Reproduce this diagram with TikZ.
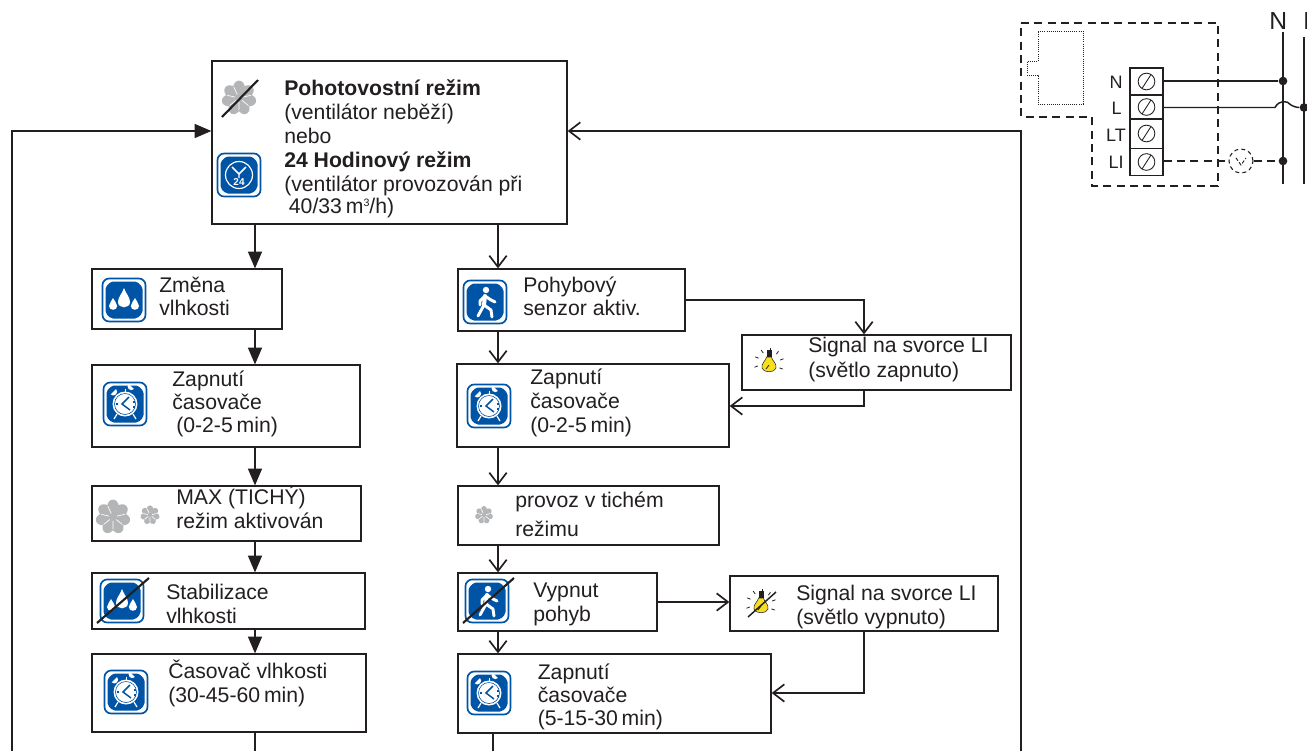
\documentclass[tikz,border=0pt]{standalone}
\usepackage{fontspec}
\setmainfont{Liberation Sans}
\usetikzlibrary{arrows.meta}
\definecolor{ink}{HTML}{231F20}
\definecolor{iconblue}{HTML}{0054A6}
\definecolor{fangray}{HTML}{B4B5B7}
\definecolor{bulbyellow}{HTML}{F7DF1E}
\tikzset{
  flowbox/.style={draw=ink,line width=.95pt,fill=white,inner sep=0pt,rectangle},
  flowtext/.style={anchor=base west,inner sep=0pt,text=ink},
  wire/.style={draw=ink,line width=.8pt},
  arrfill/.style={wire,-{Triangle[length=12.5pt,width=10.5pt]}},
  arropen/.style={wire,-{Straight Barb[length=8.5pt,width=13pt,line width=1.25pt]}},
  cell/.style={draw=ink,line width=.9pt,inner sep=0pt,rectangle,minimum width=24.75pt},
  screw/.style={circle,draw=ink,line width=.65pt,inner sep=0pt,minimum size=12.5pt},
  junction/.style={circle,fill=ink,inner sep=0pt,minimum size=6.5pt},
  slashline/.style={draw=ink,line width=1.6pt},
  dashwire/.style={draw=ink,line width=.9pt,dash pattern=on 6pt off 4pt},
}
\newcommand\tl[1]{\begin{tabular}[t]{@{}l@{}}#1\end{tabular}}
\newcommand\nsp{\hspace{2.9pt}}
% name, x1, y1, x2, y2, text x, first baseline y, baselineskip, text
\newcommand\flowbox[9]{%
  \node[flowbox,minimum width={(#4-#2)*0.75pt},minimum height={(#5-#3)*0.75pt}] (#1) at ({(#2+#4)/2},{(#3+#5)/2}) {};
  \node[flowtext,font=\fontsize{15.9}{#8}\selectfont] (#1T) at (#6,#7) {\tl{#9}};
}
\newcommand\iconframe{%
  \draw[iconblue,line width=1.25pt,fill=white,rounded corners=5pt] (-21.5,-21.5) rectangle (21.5,21.5);
  \fill[iconblue,rounded corners=1.5pt] (-13,-18.5) -- (13,-18.5) -- (18.5,-13) -- (18.5,13) -- (13,18.5) -- (-13,18.5) -- (-18.5,13) -- (-18.5,-13) -- cycle;
}
\newcommand\clockicon[2]{\begin{scope}[shift={(#1,#2)}]
  \iconframe
  \draw[white,line width=.7pt] (0,-15) -- (0,-12);
  \fill[white] (-9,-15) arc (135:315:-3.8) -- cycle;
  \fill[white] (9,-15) arc (45:225:3.8) -- cycle;
  \draw[white,line width=.9pt] (-8,10) -- (-11,15) (8,10) -- (11,15);
  \fill[white] (0,0) circle (12.5);
  \draw[iconblue,line width=.45pt] (0,0) circle (10.5);
  \draw[iconblue,line width=1.1pt] (4,-7) -- (-3,0) -- (5,6);
  \draw[iconblue,line width=.8pt] (8,-2) -- (10,-2) (8,3) -- (10,3) (-9,0) -- (-7,0);
\end{scope}}
\newcommand\dropicon[2]{\begin{scope}[shift={(#1,#2)}]
  \iconframe
  \fill[white] (0,-12) .. controls (2,-6) and (6,-3) .. (6,2) .. controls (6,9) and (-6,9) .. (-6,2) .. controls (-6,-3) and (-2,-6) .. (0,-12) -- cycle;
  \fill[white] (-11,-2) .. controls (-10,1) and (-6.8,3) .. (-6.8,6) .. controls (-6.8,11) and (-15,11) .. (-15,6) .. controls (-15,3) and (-12,1) .. (-11,-2) -- cycle;
  \fill[white] (11,-2) .. controls (12,1) and (15,3) .. (15,6) .. controls (15,11) and (6.8,11) .. (6.8,6) .. controls (6.8,3) and (10,1) .. (11,-2) -- cycle;
\end{scope}}
\newcommand\walkicon[2]{\begin{scope}[shift={(#1,#2)}]
  \iconframe
  \fill[white] (1,-12) circle (3.2);
  \draw[white,line width=3pt,line cap=round,line join=round] (0,-6) -- (-1,3);
  \draw[white,line width=2.2pt,line cap=round,line join=round] (-1,3) -- (-7,14) (-1,3) -- (6,8) -- (7,15) (0,-6) -- (-5,-1) -- (-5,3) (0,-6) -- (6,-2) -- (10,0);
\end{scope}}
\newcommand\dayicon[2]{\begin{scope}[shift={(#1,#2)}]
  \iconframe
  \draw[white,line width=.9pt] (0,0) circle (13.5);
  \draw[white,line width=1.1pt] (-7,-8) -- (0,-1) -- (7,-8) (0,-1) -- (0,3);
  \node[inner sep=0pt,text=white,font=\bfseries\fontsize{7.5}{8}\selectfont] (dayT) at (0,7) {24};
\end{scope}}
\newcommand\fanicon[3]{\begin{scope}[shift={(#1,#2)},scale=#3]
  \foreach \a in {0,51.43,...,308.6} {
    \fill[fangray,rotate=\a] (0,-10) ellipse (5.9 and 7.4);
  }
  \fill[fangray] (0,0) circle (6);
  \foreach \a in {25.7,77.1,...,334} {
    \draw[white,line width=.5pt,rotate=\a] (0,-4) -- (0,-12);
  }
\end{scope}}
\newcommand\bulbicon[2]{\begin{scope}[shift={(#1,#2)}]
  \fill[ink] (-2.5,-13) rectangle (2.5,-6);
  \fill[bulbyellow,draw=ink,line width=.4pt] (-2.5,-6) .. controls (-3,-2) and (-8,0) .. (-7,5) .. controls (-6,10) and (6,10) .. (7,5) .. controls (8,0) and (3,-2) .. (2.5,-6) -- cycle;
  \draw[ink,line width=.6pt] (0,2) -- (-3,6);
  \foreach \a in {20,55,90,125,160,200,340} {
    \draw[ink,line width=.6pt,rotate=\a] (11.5,1) -- (15,1);
  }
\end{scope}}
\begin{document}
\begin{tikzpicture}[x=0.75pt,y=-0.75pt]
\useasboundingbox (0,0) rectangle (1307,751);
\fill[white] (0,0) rectangle (1307,751);
% free ends at the picture edge
\coordinate (leftend) at (12,751);
\coordinate (leftturn) at (12,131);
\coordinate (midend) at (255,751);
\coordinate (tapend) at (493,751);
\coordinate (rightend) at (1021,751);
\coordinate (rightturn) at (1021,131);
\coordinate (xa) at (255,0);
\coordinate (xb) at (498,0);
\coordinate (xc) at (864,0);
% boxes
\flowbox{main}{212}{61}{567}{224}{284}{95}{18}{\textbf{Pohotovostní režim}\\(ventilátor neběží)\\nebo\\\textbf{24 Hodinový režim}\\(ventilátor provozován při\\[-1.5pt]\hspace*{3.5pt}40/33\nsp m\raisebox{.62ex}{\fontsize{8}{8}\selectfont 3}/h)}
\flowbox{zmena}{92}{269}{282}{329}{159}{292}{17.4}{Změna\\vlhkosti}
\flowbox{zapA}{92}{365}{360}{447}{172}{386}{17.6}{Zapnutí\\časovače\\\hspace*{3pt}(0-2-5\nsp min)}
\flowbox{maxb}{92}{486}{361}{541}{176}{504}{18}{MAX (TICHÝ)\\režim aktivován}
\flowbox{stab}{92}{573}{365}{629}{166}{599}{18}{Stabilizace\\vlhkosti}
\flowbox{timer}{92}{654}{366}{732}{168}{678}{18}{Časovač vlhkosti\\(30-45-60\nsp min)}
\flowbox{pohyb}{458}{269}{685}{331}{523}{292}{17.4}{Pohybový\\senzor aktiv.}
\flowbox{zapB}{457}{364}{729}{447}{530}{384}{18}{Zapnutí\\časovače\\(0-2-5\nsp min)}
\flowbox{sigon}{742}{335}{1011}{390}{808}{352}{18.8}{Signal na svorce LI\\(světlo zapnuto)}
\flowbox{tichy}{458}{486}{719}{545}{515}{507}{21.8}{provoz v tichém\\režimu}
\flowbox{vypnut}{458}{573}{657}{631}{533}{597}{18}{Vypnut\\pohyb}
\flowbox{sigoff}{730}{576}{998}{631}{796}{600}{18}{Signal na svorce LI\\(světlo vypnuto)}
\flowbox{zapC}{458}{654}{771}{733}{537.5}{679}{17.4}{Zapnutí\\časovače\\(5-15-30\nsp min)}
% connectors, left column
\draw[arrfill] (main.south -| xa) -- (zmena.north -| xa);
\draw[arrfill] (zmena.south -| xa) -- (zapA.north -| xa);
\draw[arrfill] (zapA.south -| xa) -- (maxb.north -| xa);
\draw[arrfill] (maxb.south -| xa) -- (stab.north -| xa);
\draw[arrfill] (stab.south -| xa) -- (timer.north -| xa);
\draw[wire] (timer.south -| midend) -- (midend);
\draw[arrfill] (leftend) -- (leftturn) -- (leftturn -| main.west);
% connectors, right column
\draw[arropen] (main.south -| xb) -- (pohyb.north -| xb);
\draw[arropen] (pohyb.south -| xb) -- (zapB.north -| xb);
\draw[arropen] (zapB.south -| xb) -- (tichy.north -| xb);
\draw[arropen] (tichy.south -| xb) -- (vypnut.north -| xb);
\draw[arropen] (vypnut.south -| xb) -- (zapC.north -| xb);
\draw[wire] (zapC.south -| tapend) -- (tapend);
\coordinate (pohybout) at (685,300);
\coordinate (siglow) at (864,406);
\coordinate (vypout) at (657,602);
\coordinate (offlow) at (864,693);
\draw[arropen] (pohybout) -- (pohybout -| xc) -- (sigon.north -| xc);
\draw[arropen] (sigon.south -| xc) -- (siglow) -- (siglow -| zapB.east);
\draw[arropen] (vypout) -- (vypout -| sigoff.west);
\draw[arropen] (sigoff.south -| xc) -- (offlow) -- (offlow -| zapC.east);
\draw[arropen] (rightend) -- (rightturn) -- (rightturn -| main.east);
% icons
\fanicon{239}{98}{1}
\draw[slashline] (222,117) -- (258,80);
\dayicon{239}{175}
\dropicon{124}{300}
\clockicon{125}{404}
\fanicon{113}{517}{1}
\fanicon{150}{515}{.56}
\dropicon{122}{601}
\draw[slashline] (97,623) -- (149,578);
\clockicon{126}{692}
\walkicon{485}{302}
\clockicon{489}{406}
\fanicon{484}{515}{.52}
\walkicon{487}{601}
\draw[slashline] (463,623) -- (514,578);
\clockicon{489}{693}
\bulbicon{769}{363}
\bulbicon{761}{604}
\draw[draw=ink,line width=1.1pt] (748,617) -- (776,592);
% wiring diagram, top right
\draw[dashwire] (1021,23) -- (1218,23) -- (1218,186) -- (1092,186) -- (1092,117) -- (1021,117) -- cycle;
\draw[ink,line width=.6pt,densely dotted] (1038,31) -- (1083,31) -- (1083,104) -- (1038,104) -- (1038,75) -- (1027,75) -- (1027,61) -- (1038,61) -- cycle;
\node[cell,minimum height=20.25pt] (tN) at (1146.5,81.5) {};
\node[cell,minimum height=18pt] (tL) at (1146.5,107) {};
\node[cell,minimum height=22pt] (tLT) at (1146.5,133.5) {};
\node[cell,minimum height=20.25pt] (tLI) at (1146.5,162) {};
\foreach \n in {tN,tL,tLT,tLI} {
  \node[screw] (s\n) at (\n) {};
  \draw[ink,line width=.65pt] ([shift={(-4.5,7)}]\n.center) -- ([shift={(4.5,-7)}]\n.center);
}
\tikzset{termlabel/.style={anchor=base east,inner sep=0pt,text=ink,font=\fontsize{13.5}{14}\selectfont}}
\node[termlabel] (lN) at (1123,88) {N};
\node[termlabel] (lL) at (1122,114) {L};
\node[termlabel] (lLT) at (1126,141) {LT};
\node[termlabel] (lLI) at (1124,168) {LI};
\node[anchor=base west,inner sep=0pt,text=ink,font=\fontsize{18.5}{19}\selectfont] (bigN) at (1269,29) {N};
\node[anchor=base west,inner sep=0pt,text=ink,font=\fontsize{18.5}{19}\selectfont] (bigL) at (1303,29) {L};
\coordinate (nbot) at (1283,184);
\coordinate (lbot) at (1304,184);
\draw[ink,line width=1.1pt] (1283,32) -- (nbot);
\draw[ink,line width=1.1pt] (1304,37) -- (lbot);
\node[junction] (jN) at (1283,81) {};
\node[junction] (jLI) at (1283,161) {};
\node[junction] (jL) at (1304,107.5) {};
\draw[ink,line width=1.1pt] (tN.east |- jN) -- (jN);
\draw[ink,line width=1.1pt] (tL.east |- jL) -- (1275,107.5) .. controls (1279,100) and (1287,100) .. (1291,105) .. controls (1294,107) and (1298,107.5) .. (jL);
\node[circle,draw=ink,line width=.8pt,dash pattern=on 3pt off 2.4pt,inner sep=0pt,minimum size=18pt] (lamp) at (1241,161) {};
\draw[ink,line width=.7pt,dash pattern=on 2.5pt off 1.5pt] (1236,158) -- (1241,165) -- (1246,158);
\draw[dashwire] (tLI.east |- jLI) -- (lamp.west);
\draw[dashwire] (lamp.east) -- (jLI);
\end{tikzpicture}
\end{document}
